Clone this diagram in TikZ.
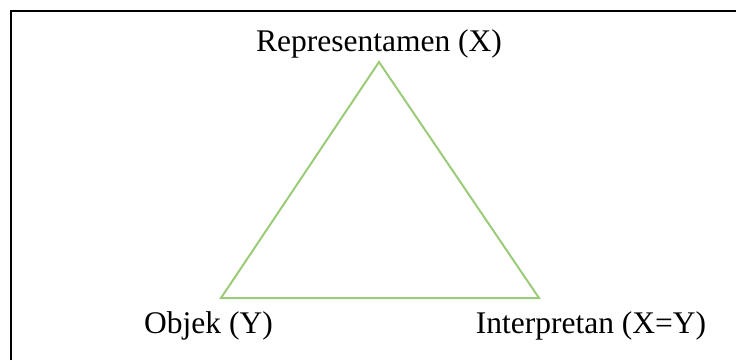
\documentclass[tikz,border=0pt]{standalone}
\usepackage{fontspec}
\setmainfont{Liberation Serif}
\definecolor{trigreen}{RGB}{155,203,120}
\tikzset{
  lbl/.style={anchor=base, inner sep=0pt, font=\fontsize{31.5}{36}\selectfont},
  edge/.style={draw=trigreen, line width=2pt, line join=miter}
}
\begin{document}
\begin{tikzpicture}[x=1pt,y=-1pt]
\useasboundingbox (0,0) rectangle (736,360);
\draw[line width=1.5pt, black] (11,360) -- (11,11) -- (736,11);
\coordinate (top) at (379,62);
\coordinate (bl) at (221,298);
\coordinate (br) at (539,298);
\draw[edge] (top) -- (br) -- (bl) -- cycle;
\node[lbl] (rep) at (379,51) {Representamen (X)};
\node[lbl] (obj) at (208.5,333) {Objek (Y)};
\node[lbl] (int) at (591,333) {Interpretan (X=Y)};
\end{tikzpicture}
\end{document}
